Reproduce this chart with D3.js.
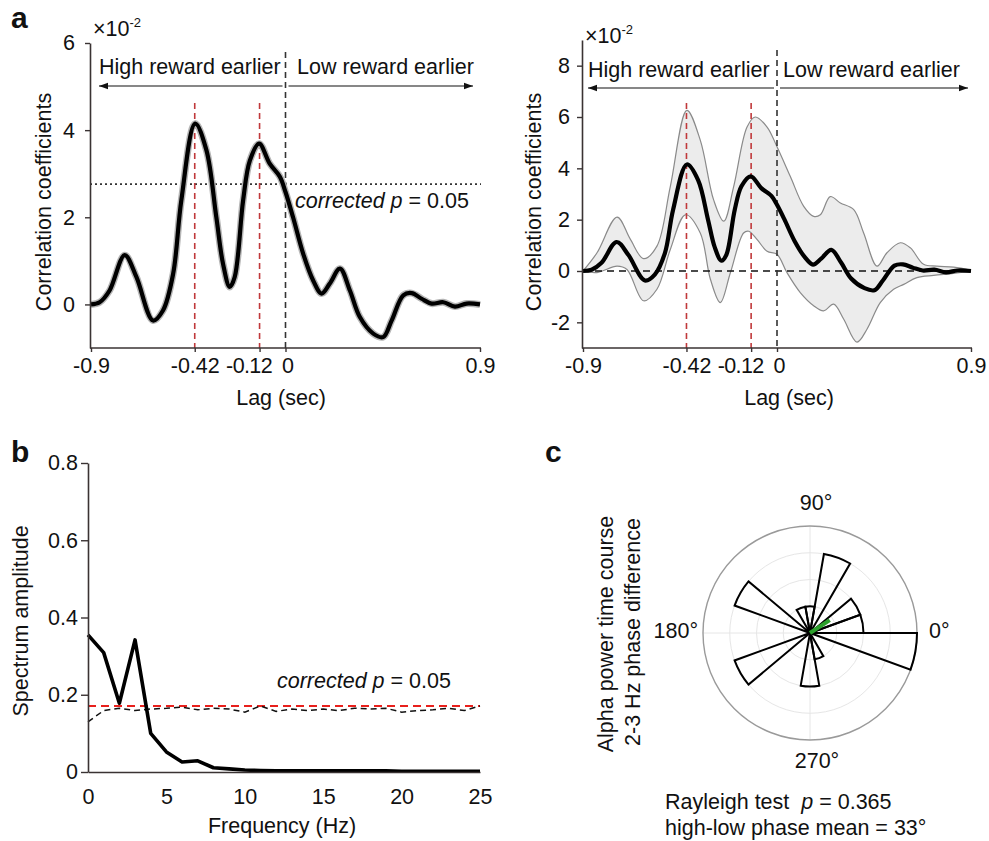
<!DOCTYPE html>
<html>
<head>
<meta charset="utf-8">
<script src="https://cdn.jsdelivr.net/npm/d3@7"></script>
<style>
  body { margin: 0; background: #fff; }
  text { font-family: "Liberation Sans", Arial, sans-serif; fill: #111; }
</style>
</head>
<body>
<svg id="fig" width="989" height="841"></svg>
<script>
// ---- panel a : cross-correlation (x10^-2) ----
const lagTicks = [-0.9, -0.42, -0.12, 0, 0.9]
const peakLags = [-0.42, -0.12]
const meanLag = [-0.9, -0.86, -0.814, -0.744, -0.69, -0.613, -0.567, -0.52, -0.482, -0.418, -0.366, -0.32, -0.289, -0.258, -0.235, -0.196, -0.165, -0.122, -0.073, -0.026, 0, 0.035, 0.082, 0.128, 0.167, 0.205, 0.252, 0.298, 0.344, 0.406, 0.452, 0.491, 0.545, 0.584, 0.63, 0.676, 0.73, 0.784, 0.838, 0.9]
const meanCorr = [0, 0.05, 0.32, 1.13, 0.63, -0.37, -0.14, 0.7, 2.39, 4.15, 3.54, 2.0, 0.93, 0.4, 0.63, 2.39, 3.3, 3.69, 3.23, 2.93, 2.58, 2.0, 1.16, 0.55, 0.25, 0.48, 0.82, 0.32, -0.29, -0.67, -0.75, -0.37, 0.21, 0.26, 0.13, 0.02, 0.05, -0.05, 0.02, 0]
const upperLag = [-0.9, -0.835, -0.742, -0.68, -0.619, -0.557, -0.495, -0.418, -0.356, -0.294, -0.247, -0.201, -0.139, -0.101, -0.046, 0, 0.062, 0.124, 0.17, 0.201, 0.247, 0.294, 0.356, 0.402, 0.464, 0.51, 0.572, 0.619, 0.68, 0.742, 0.82, 0.9]
const upperCorr = [0, 0.71, 2.1, 1.23, 0.48, 0.97, 3.29, 6.26, 5.1, 2.77, 1.94, 3.29, 5.61, 6.0, 5.61, 4.84, 3.68, 2.52, 2.13, 2.19, 2.9, 2.65, 2.39, 1.48, 0.19, 0.71, 1.1, 0.9, 0.26, 0.19, 0.15, 0.03]
const lowerLag = [-0.9, -0.835, -0.742, -0.696, -0.619, -0.557, -0.495, -0.425, -0.356, -0.309, -0.263, -0.216, -0.155, -0.131, -0.093, -0.046, 0, 0.046, 0.108, 0.17, 0.216, 0.263, 0.309, 0.371, 0.418, 0.479, 0.541, 0.588, 0.649, 0.727, 0.82, 0.9]
const lowerCorr = [0, -0.06, 0.19, 0.06, -1.16, -0.71, 0.84, 2.19, 1.48, -0.32, -1.23, -0.06, 1.48, 1.55, 1.23, 0.77, 0.65, -0.06, -0.84, -1.35, -1.55, -1.29, -1.87, -2.77, -2.26, -1.23, -0.71, -0.52, -0.26, -0.17, -0.09, 0]
const corrThreshold = 2.76

// ---- panel b : spectrum ----
const freq = [0, 1, 2, 3, 4, 5, 6, 7, 8, 9, 10, 11, 12, 13, 14, 15, 16, 17, 18, 19, 20, 21, 22, 23, 24, 25]
const spectrum = [0.355, 0.309, 0.178, 0.342, 0.1, 0.052, 0.026, 0.029, 0.011, 0.008, 0.005, 0.004, 0.003, 0.003, 0.003, 0.003, 0.003, 0.003, 0.003, 0.003, 0.002, 0.002, 0.002, 0.002, 0.002, 0.002]
const surrogate = [0.13, 0.159, 0.165, 0.159, 0.163, 0.165, 0.168, 0.161, 0.165, 0.163, 0.155, 0.171, 0.157, 0.163, 0.159, 0.163, 0.159, 0.165, 0.163, 0.165, 0.155, 0.159, 0.161, 0.165, 0.159, 0.171]
const specThreshold = 0.171
const freqTicks = [0, 5, 10, 15, 20, 25]
const ampTicks = [0, 0.2, 0.4, 0.6, 0.8]

// ---- panel c : phase rose ----
const binStart = [0, 20, 60, 80, 100, 140, 200, 260, 280, 340]   // degrees, 20 deg bins
const binCount = [2, 2, 3, 1, 1, 3, 3, 2, 1, 4]
const meanPhase = 33
const meanLength = 0.88
const angleLabels = ["0°", "90°", "180°", "270°"]

const svg = d3.select("#fig")
const AX = "#3a3333"
const FS = 21.5

svg.append("rect").attr("width", 989).attr("height", 841).attr("fill", "#fff")

svg.append("defs").append("marker")
  .attr("id", "arr").attr("viewBox", "0 -5 10 10")
  .attr("refX", 10).attr("refY", 0)
  .attr("markerWidth", 9).attr("markerHeight", 9)
  .attr("markerUnits", "userSpaceOnUse")
  .attr("orient", "auto")
  .append("path").attr("d", "M0,-3.5L10,0L0,3.5Z").attr("fill", "#111")

function txt(x, y, s, opt = {}) {
  return svg.append("text").attr("x", x).attr("y", y)
    .attr("font-size", opt.size || FS)
    .attr("text-anchor", opt.anchor || "start")
    .attr("font-weight", opt.weight || null)
    .text(s)
}

function styleAxis(g) {
  g.selectAll("path").attr("stroke", AX).attr("stroke-width", 1.6)
  g.selectAll("line").attr("stroke", AX).attr("stroke-width", 1.4)
  g.selectAll("text").attr("font-size", FS).attr("fill", "#111")
    .attr("font-family", "Liberation Sans, Arial, sans-serif")
}

function drawCorr(o) {
  const x = d3.scaleLinear().domain([-0.9, 0.9]).range(o.xr)
  const y = d3.scaleLinear().domain(o.yd).range(o.yr)
  const line = d3.line().curve(d3.curveCatmullRom.alpha(0.5))
  const meanPts = meanLag.map((l, i) => [x(l), y(meanCorr[i])])

  if (o.band) {
    const up = upperLag.map((l, i) => [x(l), y(upperCorr[i])])
    const lo = lowerLag.map((l, i) => [x(l), y(lowerCorr[i])]).reverse()
    const upPath = line(up), loPath = line(lo)
    svg.append("path").attr("d", upPath + loPath.replace(/^M/, "L") + "Z")
      .attr("fill", "#ececec").attr("stroke", "none")
    svg.append("path").attr("d", upPath).attr("fill", "none").attr("stroke", "#8a8a8a").attr("stroke-width", 1.2)
    svg.append("path").attr("d", line(lo)).attr("fill", "none").attr("stroke", "#8a8a8a").attr("stroke-width", 1.2)
    // zero line
    svg.append("line").attr("x1", o.xr[0]).attr("x2", o.xr[1]).attr("y1", y(0)).attr("y2", y(0))
      .attr("stroke", "#111").attr("stroke-width", 1.6).attr("stroke-dasharray", "7,5")
  } else {
    svg.append("line").attr("x1", o.xr[0] - 1).attr("x2", o.xr[1] + 1)
      .attr("y1", y(corrThreshold)).attr("y2", y(corrThreshold))
      .attr("stroke", "#333").attr("stroke-width", 1.6).attr("stroke-dasharray", "2,3")
  }

  // lag 0 and peak markers
  svg.append("line").attr("x1", x(0)).attr("x2", x(0)).attr("y1", o.zeroTop).attr("y2", o.yr[0])
    .attr("stroke", "#333").attr("stroke-width", 1.6).attr("stroke-dasharray", "6,4")
  peakLags.forEach(p => {
    svg.append("line").attr("x1", x(p)).attr("x2", x(p)).attr("y1", 103).attr("y2", o.yr[0])
      .attr("stroke", "#c0393b").attr("stroke-width", 1.6).attr("stroke-dasharray", "6,4")
  })

  if (!o.band) {
    svg.append("path").attr("d", line(meanPts)).attr("fill", "none")
      .attr("stroke", "#b5b5b5").attr("stroke-width", 7).attr("stroke-linejoin", "round")
  }
  svg.append("path").attr("d", line(meanPts)).attr("fill", "none")
    .attr("stroke", "#000").attr("stroke-width", 4.2).attr("stroke-linejoin", "round")

  // axes
  const gx = svg.append("g").attr("transform", `translate(0,${o.yr[0]})`)
    .call(d3.axisBottom(x).tickValues(lagTicks).tickSize(4).tickSizeOuter(0).tickPadding(6)
      .tickFormat(d => d === 0 ? "0" : String(d)))
  gx.select(".domain").attr("d", `M${o.xr[0] - 1},0H${o.xr[1] + 1}`)
  styleAxis(gx)
  // the reference squeezes "-0.12" left of the "0" label
  gx.selectAll(".tick text").filter(d => d === -0.12).attr("dx", -11).attr("letter-spacing", -0.6)
  gx.selectAll(".tick text").filter(d => d === 0).attr("dx", 2)
  const gy = svg.append("g").attr("transform", `translate(${o.xr[0] - 1},0)`)
    .call(d3.axisLeft(y).tickValues(o.yt).tickSize(5).tickSizeOuter(0).tickPadding(o.ypad)
      .tickFormat(d => String(d)))
  styleAxis(gy)

  // x10^-2
  const m = txt(o.xr[0] + 2, o.expY, "×10")
  m.append("tspan").attr("dy", -9).attr("font-size", 13).text("-2")

  // direction annotation
  txt(o.xr[0] + o.hiDx, o.annY, "High reward earlier")
  txt(o.loX, o.annY, "Low reward earlier")
  svg.append("line").attr("x1", x(0) - 3).attr("x2", o.xr[0] + o.hiDx).attr("y1", o.arrY).attr("y2", o.arrY)
    .attr("stroke", "#111").attr("stroke-width", 1.2).attr("marker-end", "url(#arr)")
  svg.append("line").attr("x1", x(0) + 3).attr("x2", o.arrEnd).attr("y1", o.arrY).attr("y2", o.arrY)
    .attr("stroke", "#111").attr("stroke-width", 1.2).attr("marker-end", "url(#arr)")

  txt(o.lagX, 405, "Lag (sec)", { anchor: "middle" })
  svg.append("text").attr("transform", `translate(${o.ylabX},202) rotate(-90)`)
    .attr("text-anchor", "middle").attr("font-size", FS).text("Correlation coefficients")
}

// panel a, left
drawCorr({ xr: [91, 480], yd: [-1, 6], yr: [348, 43], yt: [0, 2, 4, 6], ypad: 10,
  band: false, zeroTop: 52, expY: 36, annY: 74, arrY: 86, hiDx: 8, loX: 297, arrEnd: 473,
  lagX: 281, ylabX: 51 })
const ca = txt(295, 208, "")
ca.append("tspan").attr("font-style", "italic").text("corrected ")
ca.append("tspan").attr("font-style", "italic").text("p")
ca.append("tspan").text(" = 0.05")

// panel a, right
drawCorr({ xr: [583, 971], yd: [-3, 9], yr: [348, 40], yt: [-2, 0, 2, 4, 6, 8], ypad: 7,
  band: true, zeroTop: 50, expY: 43, annY: 77, arrY: 88, hiDx: 5, loX: 783, arrEnd: 968,
  lagX: 789, ylabX: 541 })

txt(11, 28, "a", { size: 30, weight: "bold" })

// ---- panel b ----
{
  const x = d3.scaleLinear().domain([0, 25]).range([88, 480])
  const y = d3.scaleLinear().domain([0, 0.8]).range([772, 463])
  const line = d3.line().x((d, i) => x(freq[i])).y(d => y(d))

  svg.append("line").attr("x1", 88).attr("x2", 480).attr("y1", y(specThreshold)).attr("y2", y(specThreshold))
    .attr("stroke", "#e8201c").attr("stroke-width", 2).attr("stroke-dasharray", "8,5")
  svg.append("path").attr("d", line(surrogate)).attr("fill", "none")
    .attr("stroke", "#111").attr("stroke-width", 1.5).attr("stroke-dasharray", "6,4")
  svg.append("path").attr("d", line(spectrum)).attr("fill", "none")
    .attr("stroke", "#000").attr("stroke-width", 3.6).attr("stroke-linejoin", "round")

  const gx = svg.append("g").attr("transform", "translate(0,772)")
    .call(d3.axisBottom(x).tickValues(freqTicks).tickSize(0).tickSizeOuter(0).tickPadding(17))
  styleAxis(gx)
  const gy = svg.append("g").attr("transform", "translate(88,0)")
    .call(d3.axisLeft(y).tickValues(ampTicks).tickSize(7).tickSizeOuter(0).tickPadding(3)
      .tickFormat(d => String(d)))
  styleAxis(gy)

  const cb = txt(277, 688, "")
  cb.append("tspan").attr("font-style", "italic").text("corrected ")
  cb.append("tspan").attr("font-style", "italic").text("p")
  cb.append("tspan").text(" = 0.05")

  txt(282, 833, "Frequency (Hz)", { anchor: "middle" })
  svg.append("text").attr("transform", "translate(28,621) rotate(-90)")
    .attr("text-anchor", "middle").attr("font-size", FS).text("Spectrum amplitude")
  txt(11, 462, "b", { size: 30, weight: "bold" })
}

// ---- panel c ----
{
  const cx = 810, cy = 633
  const r = d3.scaleLinear().domain([0, 4]).range([0, 107])
  const g = svg.append("g").attr("transform", `translate(${cx},${cy})`)

  ;[1, 2, 3].forEach(k => g.append("circle").attr("r", r(k)).attr("fill", "none")
    .attr("stroke", "#e6e6e6").attr("stroke-width", 1))
  ;[0, 90].forEach(a => {
    const t = a * Math.PI / 180
    g.append("line").attr("x1", -r(4) * Math.cos(t)).attr("y1", r(4) * Math.sin(t))
      .attr("x2", r(4) * Math.cos(t)).attr("y2", -r(4) * Math.sin(t))
      .attr("stroke", "#e6e6e6").attr("stroke-width", 1)
  })
  g.append("circle").attr("r", r(4)).attr("fill", "none").attr("stroke", "#9a9a9a").attr("stroke-width", 1.4)

  const arc = d3.arc().innerRadius(0)
  binStart.forEach((b, i) => {
    g.append("path").attr("d", arc({
      outerRadius: r(binCount[i]),
      startAngle: (90 - (b + 20)) * Math.PI / 180,
      endAngle: (90 - b) * Math.PI / 180
    })).attr("fill", "none").attr("stroke", "#000").attr("stroke-width", 2).attr("stroke-linejoin", "miter")
  })

  const mt = meanPhase * Math.PI / 180
  g.append("line").attr("x1", 0).attr("y1", 0)
    .attr("x2", r(meanLength) * Math.cos(mt)).attr("y2", -r(meanLength) * Math.sin(mt))
    .attr("stroke", "#2ca02c").attr("stroke-width", 4).attr("stroke-linecap", "butt")

  txt(929, 638, angleLabels[0])
  txt(816, 510, angleLabels[1], { anchor: "middle" })
  txt(698, 638, angleLabels[2], { anchor: "end" })
  txt(817, 768, angleLabels[3], { anchor: "middle" })

  svg.append("text").attr("transform", "translate(613,634) rotate(-90)")
    .attr("text-anchor", "middle").attr("font-size", FS).text("Alpha power time course")
  svg.append("text").attr("transform", "translate(640,632) rotate(-90)")
    .attr("text-anchor", "middle").attr("font-size", FS).text("2-3 Hz phase difference")

  const rt = txt(665, 809, "Rayleigh test  ")
  rt.attr("xml:space", "preserve")
  rt.append("tspan").attr("font-style", "italic").text("p")
  rt.append("tspan").text(" = 0.365")
  txt(665, 835, "high-low phase mean = 33°")
  txt(545, 462, "c", { size: 30, weight: "bold" })
}
</script>
</body>
</html>
